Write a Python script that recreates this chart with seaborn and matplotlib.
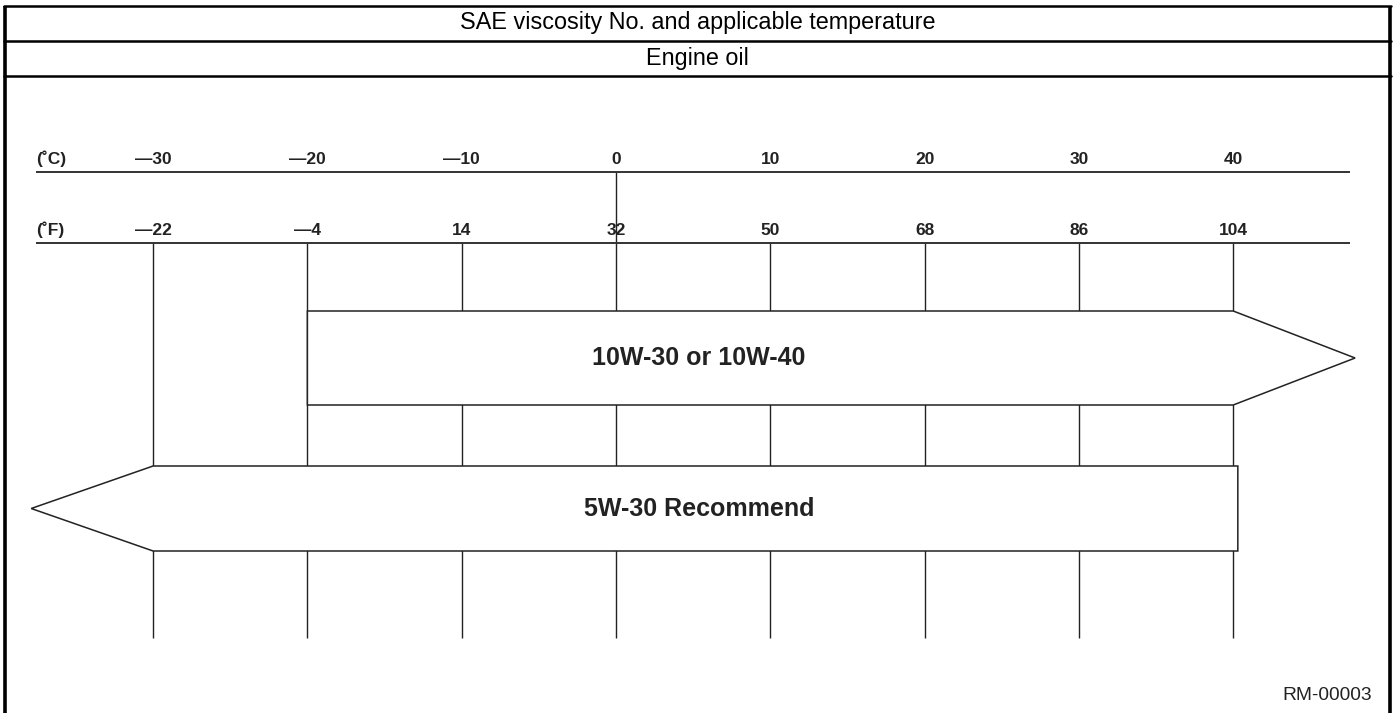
import matplotlib
matplotlib.use("Agg")
import matplotlib.pyplot as plt
import seaborn as sns
import pandas as pd

# scale labels (same positions on both rows)
celsius_ticks = [-30, -20, -10, 0, 10, 20, 30, 40]
fahrenheit_ticks = [-22, -4, 14, 32, 50, 68, 86, 104]

# oil grades: usable range in deg C and which end is open
grades = ["10W-30 or 10W-40", "5W-30 Recommend"]
grade_low = [-20, -30]
grade_high = [40, 40]
grade_open = ["right", "left"]

title = "SAE viscosity No. and applicable temperature"
subtitle = "Engine oil"
ref_code = "RM-00003"

sns.set_theme(style="white")
plt.rcParams["font.family"] = ["Liberation Sans", "DejaVu Sans"]

W, H = 1395, 713
fig = plt.figure(figsize=(W / 100, H / 100), dpi=100)
ax = fig.add_axes([0, 0, 1, 1])
# x in deg C, y in pixel rows (top down)
x0, k = 616.0, 15.43
ax.set_xlim(-x0 / k, (W - x0) / k)
ax.set_ylim(H, 0)
ax.axis("off")

def c(px):
    return (px - x0) / k

def lab(v):
    return f"{v}".replace("-", "—")

ink = "#222222"
head = 7.9  # arrow head length in deg C

# frame
fr = ax.get_yaxis_transform()
ax.plot([5 / W, 5 / W], [6, H], transform=fr, color="black", lw=2.6, solid_capstyle="butt")
ax.plot([1390 / W, 1390 / W], [6, H], transform=fr, color="black", lw=2.6, solid_capstyle="butt")
for yy in [6, 41, 76]:
    ax.plot([4 / W, 1391 / W], [yy, yy], transform=fr, color="black", lw=1.8)
ax.text(0.5, 23, title, transform=fr, ha="center", va="center", fontsize=16.8, color="black")
ax.text(0.5, 58, subtitle, transform=fr, ha="center", va="center", fontsize=16.8, color="black")

# scale rows
y_c, y_f = 172, 243
ax.hlines([y_c, y_f], c(36), c(1350), color="#333333", lw=1.4)
ax.text(c(36), y_c - 5, "(˚C)", ha="left", va="bottom", fontsize=12.5, fontweight="bold", color=ink)
ax.text(c(36), y_f - 5, "(˚F)", ha="left", va="bottom", fontsize=12.5, fontweight="bold", color=ink)
for tc, tf in zip(celsius_ticks, fahrenheit_ticks):
    ax.text(tc, y_c - 5, lab(tc), ha="center", va="bottom",
            fontsize=12.5, fontweight="bold", color=ink)
    ax.text(tc, y_f - 5, lab(tf), ha="center", va="bottom",
            fontsize=12.5, fontweight="bold", color=ink, zorder=4)
    top = y_c if tc == 0 else y_f
    ax.vlines(tc, top, 638, color=ink, lw=1.0, zorder=1)

# grade arrows
rows = pd.DataFrame({"grade": grades, "low": grade_low, "high": grade_high, "open": grade_open})
bands = [(311, 405), (466, 551)]
for (_, r), (yt, yb) in zip(rows.iterrows(), bands):
    ym = (yt + yb) / 2
    if r["open"] == "right":
        xs = [r["low"], r["high"], r["high"] + head, r["high"], r["low"], r["low"]]
        ys = [yt, yt, ym, yb, yb, yt]
    else:
        hi = r["high"] + 0.3
        xs = [hi, r["low"], r["low"] - head, r["low"], hi, hi]
        ys = [yt, yt, ym, yb, yb, yt]
    ax.fill(xs, ys, facecolor="white", edgecolor=ink, lw=1.1, zorder=3)
    ax.text(c(699), ym, r["grade"], ha="center", va="center", fontsize=18,
            fontweight="bold", color=ink, zorder=4)

ax.text(1372 / W, 696, ref_code, transform=fr, ha="right", va="center", fontsize=13.8, color="#222222")

fig.savefig("out.png", dpi=100, facecolor="white")
